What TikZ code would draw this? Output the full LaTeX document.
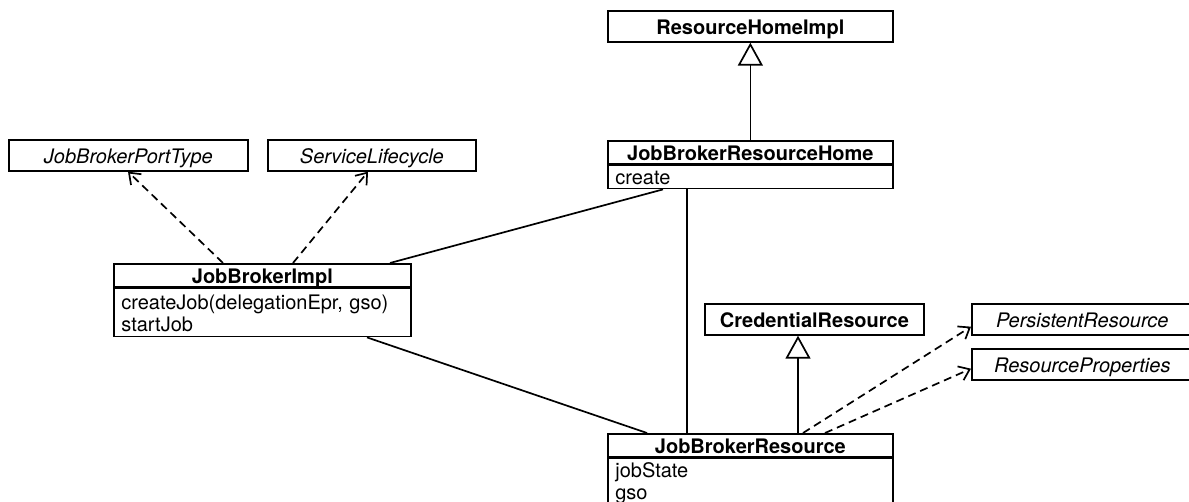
\documentclass[tikz,border=0pt]{standalone}
\usepackage{fontspec}
\setmainfont{TeX Gyre Heros}
\usetikzlibrary{arrows.meta,calc}
\begin{document}
\begin{tikzpicture}[x=1pt,y=-1pt,
  box/.style={draw, line width=1.7pt, anchor=north west, inner sep=0pt,
              text height=16pt, text depth=0pt, font=\fontsize{20}{22}\selectfont},
  head/.style={box, font=\fontsize{20}{22}\selectfont\bfseries, minimum height=23pt},
  plain/.style={box, font=\fontsize{20}{22}\selectfont\bfseries, minimum height=31pt},
  iface/.style={box, font=\fontsize{20}{22}\selectfont\itshape, minimum height=31pt},
  members/.style={box, align=left, inner xsep=7.5pt, inner ysep=3pt},
  assoc/.style={line width=1.7pt},
  realize/.style={line width=1.7pt, dash pattern=on 8pt off 5pt,
                  -{Straight Barb[length=10pt,width=15pt]}},
  inherit/.style={line width=1.7pt, -{Triangle[open,length=23pt,width=25pt]}}]
\useasboundingbox (0,0) rectangle (1189,502);
\clip (0,0) rectangle (1189,502);

% classes and interfaces
\node[plain, minimum width=285pt] (rhi) at (607,10) {ResourceHomeImpl};
\node[iface, minimum width=239pt] (jbpt) at (8,139) {JobBrokerPortType};
\node[iface, minimum width=208pt] (slc) at (267,139) {ServiceLifecycle};

\node[head, minimum width=285pt] (jbrh) at (607,140) {JobBrokerResourceHome};
\node[members, text width=270pt, minimum height=23pt, text depth=1pt] (jbrhm) at (jbrh.south west) {create};

\node[head, minimum width=297pt] (jbi) at (113,263) {JobBrokerImpl};
\node[members, text width=282pt, inner ysep=5pt, text depth=22pt] (jbim) at (jbi.south west)
  {createJob(delegationEpr, gso)\\startJob};

\node[plain, minimum width=219pt] (cred) at (704,303) {CredentialResource};
\node[iface, minimum width=221pt] (pers) at (971,303) {PersistentResource};
\node[iface, minimum width=221pt] (rprop) at (971,348) {ResourceProperties};

\node[head, minimum width=285pt] (jbr) at (607,433) {JobBrokerResource};
\node[members, text width=270pt, text depth=40pt] (jbrm) at (jbr.south west) {jobState\\gso};

% realizations
\draw[realize] ($(jbi.north west)+(110,0)$) -- ($(jbpt.south west)+(120,0)$);
\draw[realize] ($(jbi.north west)+(180,0)$) -- ($(slc.south west)+(101,0)$);
\draw[realize] ($(jbr.north west)+(196,0)$) -- ($(pers.south west)+(0,-9)$);
\draw[realize] ($(jbr.north west)+(218,0)$) -- ($(rprop.south west)+(0,-12)$);

% associations
\draw[assoc] ($(jbi.north west)+(277,0)$) -- ($(jbrhm.south west)+(56,0)$);
\draw[assoc] ($(jbim.south west)+(254,0)$) -- ($(jbr.north west)+(40,0)$);
\draw[assoc] ($(jbrhm.south west)+(80,0)$) -- ($(jbr.north west)+(80,0)$);

% generalizations
\draw[inherit] (jbrh.north) -- (rhi.south);
\draw[inherit] ($(jbr.north west)+(191,0)$) -- ($(cred.south west)+(94,0)$);
\end{tikzpicture}
\end{document}
